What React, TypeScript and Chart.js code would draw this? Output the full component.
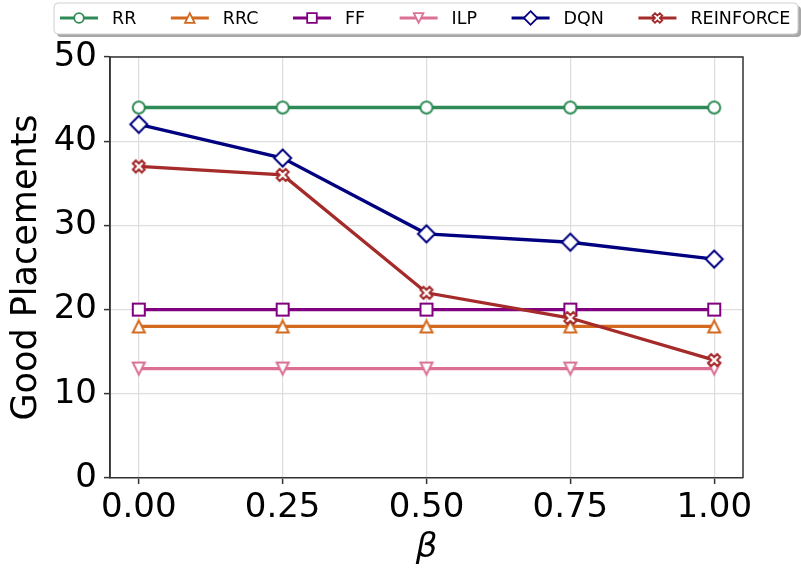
import React, { useEffect, useRef } from 'react';
import { Chart, registerables } from 'chart.js';

Chart.register(...registerables);

// ---- data ----
const betaValues = [0, 0.25, 0.5, 0.75, 1.0];
const xTickLabels = ['0.00', '0.25', '0.50', '0.75', '1.00'];
const yTickValues = [0, 10, 20, 30, 40, 50];

const rrValues = [44, 44, 44, 44, 44];
const rrcValues = [18, 18, 18, 18, 18];
const ffValues = [20, 20, 20, 20, 20];
const ilpValues = [13, 13, 13, 13, 13];
const dqnValues = [42, 38, 29, 28, 26];
const reinforceValues = [37, 36, 22, 19, 14];

const seriesNames = ['RR', 'RRC', 'FF', 'ILP', 'DQN', 'REINFORCE'];
const seriesValues = [rrValues, rrcValues, ffValues, ilpValues, dqnValues, reinforceValues];
const seriesColors = ['#2e8b57', '#d2691e', '#800080', '#db7093', '#000080', '#a52a2a'];
const markerKinds = ['circle', 'triangleUp', 'square', 'triangleDown', 'diamond', 'xFilled'];

const FONT = '"DejaVu Sans", sans-serif';

function markerPath(ctx: CanvasRenderingContext2D, kind: string, cx: number, cy: number, s: number) {
  const h = s / 2;
  ctx.beginPath();
  if (kind === 'circle') {
    ctx.arc(cx, cy, h, 0, Math.PI * 2);
  } else if (kind === 'triangleUp') {
    ctx.moveTo(cx, cy - h);
    ctx.lineTo(cx - h, cy + h);
    ctx.lineTo(cx + h, cy + h);
    ctx.closePath();
  } else if (kind === 'triangleDown') {
    ctx.moveTo(cx, cy + h);
    ctx.lineTo(cx - h, cy - h);
    ctx.lineTo(cx + h, cy - h);
    ctx.closePath();
  } else if (kind === 'square') {
    ctx.rect(cx - h, cy - h, s, s);
  } else if (kind === 'diamond') {
    const d = h * Math.SQRT2;
    ctx.moveTo(cx, cy - d);
    ctx.lineTo(cx + d, cy);
    ctx.lineTo(cx, cy + d);
    ctx.lineTo(cx - d, cy);
    ctx.closePath();
  } else if (kind === 'xFilled') {
    const k = s / 4;
    const pts = [
      [-1, -2], [0, -1], [1, -2], [2, -1], [1, 0], [2, 1],
      [1, 2], [0, 1], [-1, 2], [-2, 1], [-1, 0], [-2, -1],
    ];
    pts.forEach((p, i) => {
      const x = cx + p[0] * k;
      const y = cy + p[1] * k;
      if (i === 0) ctx.moveTo(x, y);
      else ctx.lineTo(x, y);
    });
    ctx.closePath();
  }
}

function drawMarker(ctx: CanvasRenderingContext2D, kind: string, cx: number, cy: number, s: number, color: string, lw: number) {
  ctx.save();
  markerPath(ctx, kind, cx, cy, s);
  ctx.fillStyle = '#ffffff';
  ctx.fill();
  ctx.lineWidth = lw;
  ctx.strokeStyle = color;
  ctx.lineJoin = 'miter';
  ctx.stroke();
  ctx.restore();
}

function makeMarkerCanvas(kind: string, color: string, s: number, lw: number) {
  const c = document.createElement('canvas');
  const W = 30;
  c.width = W;
  c.height = W;
  const ctx = c.getContext('2d')!;
  drawMarker(ctx, kind, W / 2, W / 2, s, color, lw);
  return c;
}

const spinesPlugin = {
  id: 'spines',
  afterDatasetsDraw(chart: any) {
    const { ctx, chartArea } = chart;
    ctx.save();
    ctx.strokeStyle = '#333333';
    ctx.lineWidth = 1.5;
    ctx.beginPath();
    ctx.moveTo(chartArea.left, chartArea.bottom);
    ctx.lineTo(chartArea.left, chartArea.top);
    ctx.lineTo(chartArea.right, chartArea.top);
    ctx.lineTo(chartArea.right, chartArea.bottom);
    ctx.stroke();
    ctx.restore();
  },
};

function roundRect(ctx: CanvasRenderingContext2D, x: number, y: number, w: number, h: number, r: number) {
  ctx.beginPath();
  ctx.moveTo(x + r, y);
  ctx.lineTo(x + w - r, y);
  ctx.arcTo(x + w, y, x + w, y + r, r);
  ctx.lineTo(x + w, y + h - r);
  ctx.arcTo(x + w, y + h, x + w - r, y + h, r);
  ctx.lineTo(x + r, y + h);
  ctx.arcTo(x, y + h, x, y + h - r, r);
  ctx.lineTo(x, y + r);
  ctx.arcTo(x, y, x + r, y, r);
  ctx.closePath();
}

const legendPlugin = {
  id: 'customLegend',
  afterDraw(chart: any) {
    const ctx: CanvasRenderingContext2D = chart.ctx;
    ctx.save();
    const bx = 54, by = 3, bw = 744, bh = 31;
    // shadow
    roundRect(ctx, bx + 3, by + 3, bw, bh, 4);
    ctx.fillStyle = '#a8a8a8';
    ctx.fill();
    roundRect(ctx, bx, by, bw, bh, 4);
    ctx.fillStyle = '#ffffff';
    ctx.fill();
    ctx.strokeStyle = '#d0d0d0';
    ctx.lineWidth = 1;
    ctx.stroke();

    ctx.font = `17.5px ${FONT}`;
    ctx.textBaseline = 'middle';
    ctx.textAlign = 'left';
    let x = 60;
    const cy = 18;
    seriesNames.forEach((name, i) => {
      ctx.strokeStyle = seriesColors[i];
      ctx.lineWidth = 3;
      ctx.beginPath();
      ctx.moveTo(x, cy);
      ctx.lineTo(x + 38, cy);
      ctx.stroke();
      drawMarker(ctx, markerKinds[i], x + 19, cy, 9.6, seriesColors[i], 1.8);
      ctx.fillStyle = '#000000';
      ctx.fillText(name, x + 52, cy + 1);
      x += 52 + ctx.measureText(name).width + 34.5;
    });
    ctx.restore();
  },
};

export default function App() {
  const canvasRef = useRef<HTMLCanvasElement | null>(null);

  useEffect(() => {
    const canvas = canvasRef.current;
    if (!canvas) return;
    const markers = seriesNames.map((_, i) => makeMarkerCanvas(markerKinds[i], seriesColors[i], 12, 2));

    const datasets = seriesNames.map((name, i) => ({
      label: name,
      data: betaValues.map((b, j) => ({ x: b, y: seriesValues[i][j] })),
      borderColor: seriesColors[i],
      backgroundColor: '#ffffff',
      borderWidth: 3.3,
      pointStyle: markers[i] as any,
      pointRadius: 7,
      pointHoverRadius: 7,
      tension: 0,
      fill: false,
      order: seriesNames.length - 1 - i,
    }));

    const chart = new Chart(canvas, {
      type: 'line',
      data: { datasets },
      options: {
        animation: false,
        responsive: false,
        maintainAspectRatio: false,
        events: [],
        layout: { padding: { top: 57, right: 58, left: 0, bottom: 0 } },
        plugins: {
          legend: { display: false },
          tooltip: { enabled: false },
        },
        scales: {
          x: {
            type: 'linear',
            min: -0.05,
            max: 1.05,
            afterBuildTicks: (scale: any) => {
              scale.ticks = betaValues.map((v) => ({ value: v }));
            },
            afterFit: (scale: any) => {
              scale.height = 95;
            },
            ticks: {
              autoSkip: false,
              maxRotation: 0,
              padding: 4,
              color: '#000000',
              font: { family: FONT, size: 34 },
              callback: (_v: any, idx: number) => xTickLabels[idx],
            },
            grid: {
              color: '#dddddd',
              lineWidth: 1.2,
              tickColor: '#333333',
              tickLength: 6,
              tickWidth: 1.5,
            },
            border: { color: '#333333', width: 1.5 },
            title: {
              display: true,
              text: 'β',
              color: '#000000',
              font: { family: FONT, size: 34, style: 'italic' },
              padding: { top: 0, bottom: 4 },
            },
          },
          y: {
            type: 'linear',
            min: 0,
            max: 50,
            afterBuildTicks: (scale: any) => {
              scale.ticks = yTickValues.map((v) => ({ value: v }));
            },
            afterFit: (scale: any) => {
              scale.width = 110;
            },
            ticks: {
              padding: 7,
              color: '#000000',
              font: { family: FONT, size: 34 },
              callback: (v: any) => String(v),
            },
            grid: {
              color: '#dddddd',
              lineWidth: 1.2,
              tickColor: '#333333',
              tickLength: 6,
              tickWidth: 1.5,
            },
            border: { color: '#333333', width: 1.5 },
            title: {
              display: true,
              text: 'Good Placements',
              color: '#000000',
              font: { family: FONT, size: 35 },
              padding: { top: 6, bottom: 0 },
            },
          },
        },
      },
      plugins: [spinesPlugin, legendPlugin],
    } as any);

    return () => {
      chart.destroy();
    };
  }, []);

  return (
    <div style={{ position: 'fixed', left: 0, top: 0, width: 801, height: 573, background: '#ffffff' }}>
      <canvas ref={canvasRef} width={801} height={573} style={{ display: 'block', width: 801, height: 573 }} />
    </div>
  );
}
